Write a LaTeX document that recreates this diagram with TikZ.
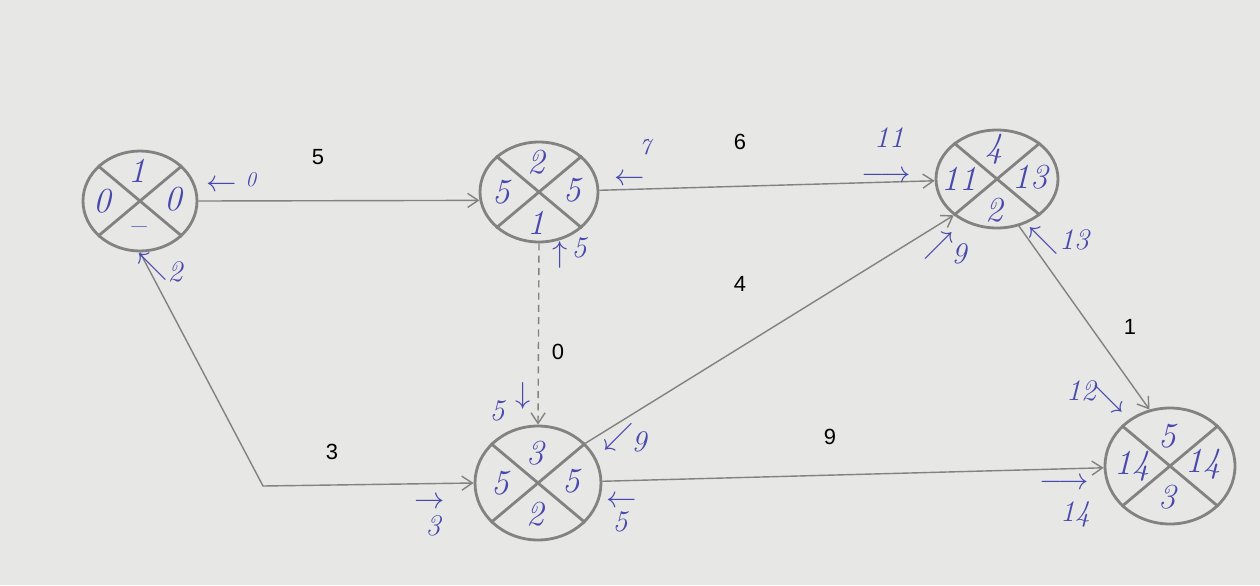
\documentclass[tikz,border=0pt]{standalone}
\usepackage{fontspec}
\newfontfamily\printfont{Liberation Sans}
\usepackage{tikz}
\usetikzlibrary{arrows.meta,positioning,shapes.geometric,calc}
\definecolor{inkblue}{RGB}{72,72,175}
\definecolor{pencilgray}{RGB}{130,130,130}
\definecolor{paper}{RGB}{231,231,229}

% event circle split in four: name, position, width, height, top, left, right, bottom
\newcommand{\eventnode}[8]{%
  \node[event, minimum width=#3, minimum height=#4] (#1) at (#2) {};
  \draw[cross] (#1.140) -- (#1.-40) (#1.40) -- (#1.220);
  \node[num] (#1-top) at ($(#1)+(-3,-30)$) {#5};
  \node[num] (#1-left) at ($(#1)+(-38,0)$) {#6};
  \node[num] (#1-right) at ($(#1)+(33,-2)$) {#7};
  \node[num] (#1-bot) at ($(#1)+(-3,31)$) {#8};
}

\begin{document}
\begin{tikzpicture}[
  x=0.02cm, y=-0.02cm,
  event/.style={ellipse, draw=pencilgray, line width=1.6pt, inner sep=0pt},
  cross/.style={draw=pencilgray, line width=1.6pt},
  num/.style={inkblue, font=\fontsize{20}{24}\selectfont\itshape, inner sep=0pt},
  note/.style={inkblue, font=\fontsize{17}{20}\selectfont\itshape, inner sep=0pt},
  dur/.style={font=\printfont\fontsize{12.5}{15}\selectfont, inner sep=0pt},
  arrow/.style={-{Straight Barb[length=6pt,width=8pt]}, draw=pencilgray, line width=0.8pt},
  dummy/.style={arrow, dash pattern=on 4pt off 3pt}
]
\fill[paper] (0,0) rectangle (1260,585);
\useasboundingbox (0,0) rectangle (1260,585);

\eventnode{n1}{140,201}{2.28cm}{2.0cm}{1}{0}{0}{--}
\eventnode{n2}{539,192}{2.36cm}{2.0cm}{2}{5}{5}{1}
\eventnode{n3}{997,179}{2.44cm}{1.96cm}{4}{11}{13}{2}
\eventnode{n4}{538,483}{2.52cm}{2.28cm}{3}{5}{5}{2}
\eventnode{n5}{1170,466}{2.6cm}{2.32cm}{5}{14}{14}{3}

\coordinate (bend) at (263,486);

\draw[arrow] (n1.east) -- (n2.188);
\draw[arrow] (n2) -- (n3);
\draw[dummy] (n2.south) -- (n4.north);
\draw[arrow] (n1.south) -- (bend) -- (n4.west);
\draw[arrow] (n4.40) -- (n3.220);
\draw[arrow] (n4) -- (n5);
\draw[arrow] (n3.-65) -- (n5.110);

% durations
\node[dur] (d12) at (318,157) {5};
\node[dur] (d23) at (740,142) {6};
\node[dur] (d24) at (558,352) {0};
\node[dur] (d14) at (332,452) {3};
\node[dur] (d43) at (740,284) {4};
\node[dur] (d45) at (830,437) {9};
\node[dur] (d35) at (1130,327) {1};

% handwritten notes
\node[note] (h1a) at (222,186) {$\leftarrow$};
\node[note] (h1b) at (251,180) {\fontsize{12}{14}\selectfont 0};
\node[note] (h2a) at (153,267) {$\nwarrow$};
\node[note] (h2b) at (175,272) {2};
\node[note] (h3a) at (630,180) {$\leftarrow$};
\node[note] (h3b) at (645,147) {\fontsize{13}{15}\selectfont 7};
\node[note] (h4a) at (560,255) {$\uparrow$};
\node[note] (h4b) at (579,248) {5};
\node[note] (h5a) at (497,411) {5};
\node[note] (h5b) at (523,396) {$\downarrow$};
\node[note] (h6a) at (619,437) {$\swarrow$};
\node[note] (h6b) at (639,442) {9};
\node[note] (h7a) at (622,502) {$\leftarrow$};
\node[note] (h7b) at (620,522) {5};
\node[note] (h8a) at (430,503) {$\rightarrow$};
\node[note] (h8b) at (433,526) {3};
\node[note] (h9a) at (889,138) {11};
\node[note] (h9b) at (886,177) {$\longrightarrow$};
\node[note] (h10a) at (939,246) {$\nearrow$};
\node[note] (h10b) at (959,254) {9};
\node[note] (h11a) at (1044,241) {$\nwarrow$};
\node[note] (h11b) at (1074,240) {13};
\node[note] (h12a) at (1081,391) {12};
\node[note] (h12b) at (1109,399) {$\searrow$};
\node[note] (h13a) at (1064,484) {$\longrightarrow$};
\node[note] (h13b) at (1075,514) {14};
\end{tikzpicture}
\end{document}
